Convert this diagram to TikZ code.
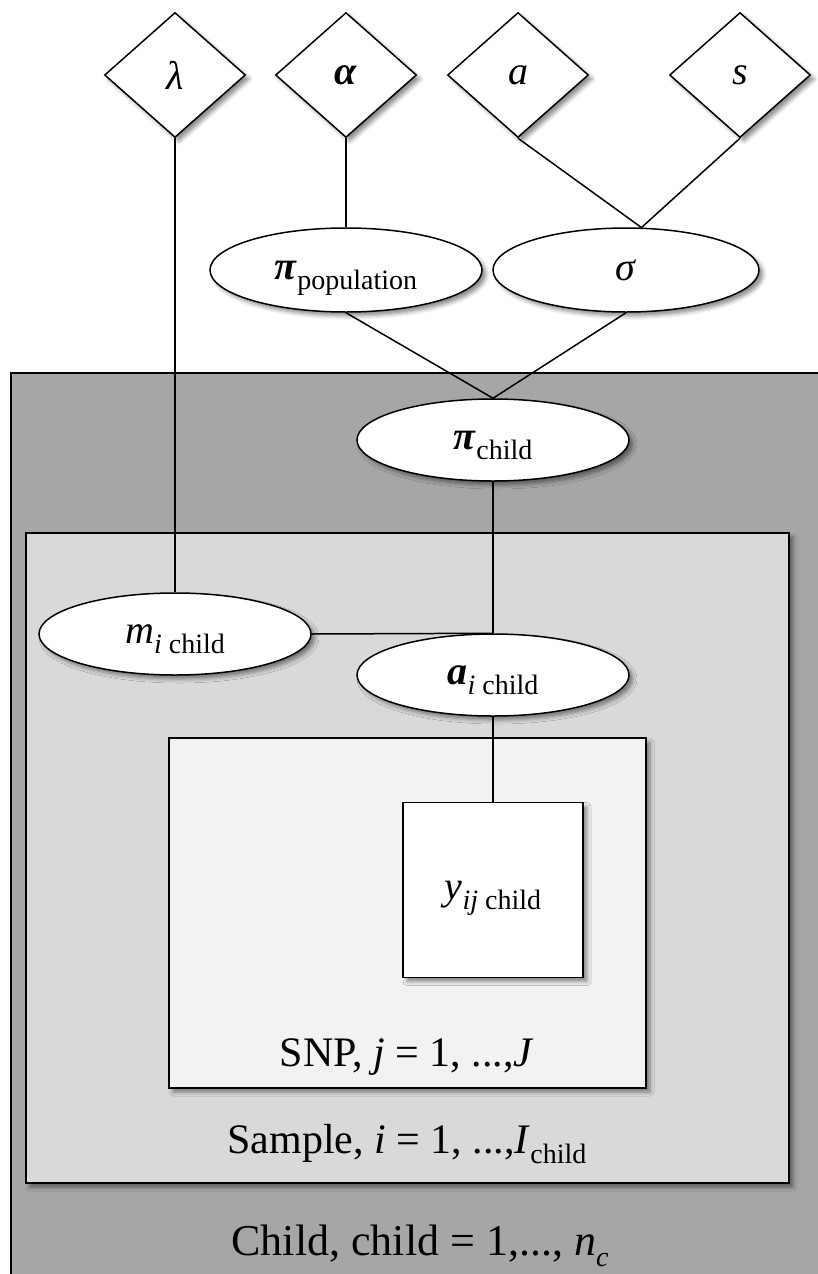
\documentclass[tikz,border=0pt]{standalone}
\usepackage{fontspec}
\setmainfont{Liberation Serif}
\usetikzlibrary{shapes.geometric, shadows.blur}

% lowered subscript in text
\newcommand{\lsub}[1]{\raisebox{-0.25em}{\fontsize{28}{30}\selectfont #1}}

\begin{document}
\begin{tikzpicture}[x=1pt, y=-1pt, line width=1.5pt,
    dropshade/.style={blur shadow={shadow xshift=4pt, shadow yshift=-4pt, shadow blur radius=4pt, shadow opacity=45}},
    param/.style={diamond, draw, fill=white, minimum width=141pt, minimum height=125pt, inner sep=0pt, dropshade, font=\fontsize{40}{44}\selectfont},
    latent/.style={ellipse, draw, fill=white, minimum width=272pt, minimum height=82pt, inner sep=0pt, text depth=0pt, dropshade, font=\fontsize{40}{44}\selectfont},
    obs/.style={rectangle, draw, fill=white, minimum width=180pt, minimum height=175pt, inner sep=0pt, text depth=0pt, dropshade, font=\fontsize{40}{44}\selectfont},
    platelabel/.style={font=\fontsize{42}{46}\selectfont, inner sep=0pt}]

    \useasboundingbox (0,0) rectangle (818,1274);
    \clip (0,0) rectangle (818,1274);

    % Plates
    \draw[fill=black!35] (11,373) rectangle (850,1300);
    \draw[fill=black!15, dropshade] (26,533) rectangle (789,1183);
    \draw[fill=black!5, dropshade] (169,738) rectangle (646,1088);

    \node[platelabel] (snplab) at (407,1057) {SNP, \textit{j} = 1, ...,\textit{J}};
    \node[platelabel] (samplab) at (407,1144) {Sample, \textit{i} = 1, ...,\textit{I}\lsub{child}};
    \node[platelabel, font=\fontsize{44}{48}\selectfont] (childlab) at (420,1246) {Child, child = 1,..., \textit{n}\lsub{\textit{c}}};

    % Hyperparameters
    \node[param] (lam) at (175,75) {\textit{λ}};
    \node[param] (alpha) at (346,75) {\textbf{\textit{α}}};
    \node[param] (adia) at (518,75) {\textit{a}};
    \node[param] (sdia) at (740,75) {\textit{s}};

    % Latent variables
    \node[latent, minimum height=84pt] (pipop) at (346,270) {\textbf{\textit{π}}\lsub{population}};
    \node[latent, minimum width=266pt, minimum height=84pt] (sig) at (626,270) {\textit{σ}};
    \node[latent] (pichild) at (493,440) {\textbf{\textit{π}}\lsub{child}};
    \node[latent] (mi) at (175,634) {\textit{m}\lsub{\textit{i} child}};
    \node[latent] (ai) at (493,675) {\textbf{\textit{a}}\lsub{\textit{i} child}};

    % Observed
    \node[obs] (yij) at (493,890) {\textit{y}\lsub{\textit{ij} child}};

    % Edges
    \draw (lam.south) -- (mi.north);
    \draw (alpha.south) -- (pipop.north);
    \draw (adia.south) -- (sig.70);
    \draw (sdia.south) -- (sig.70);
    \draw (pipop.south) -- (pichild.north);
    \draw (sig.south) -- (pichild.north);
    \draw (pichild.south) -- (ai.north);
    \draw (mi.east) -- (ai.north);
    \draw (ai.south) -- (yij.north);
\end{tikzpicture}
\end{document}
